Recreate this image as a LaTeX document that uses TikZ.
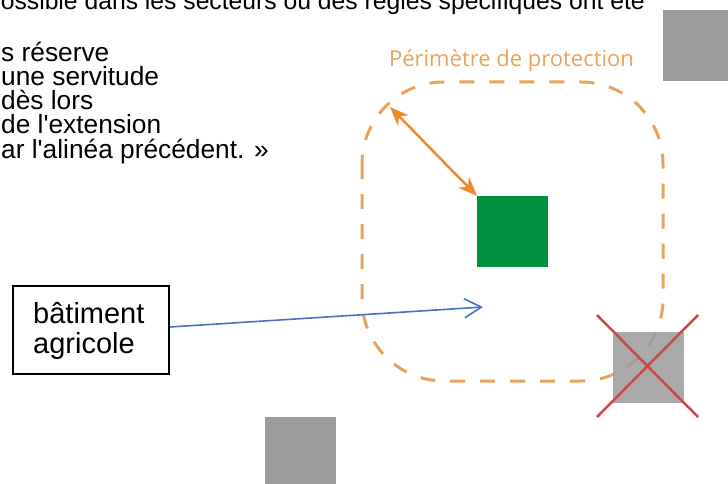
\documentclass[tikz,border=0pt]{standalone}
\usepackage{fontspec}
\setmainfont{Liberation Sans}[Ligatures=TeXOff]
\newfontfamily\perimfont{Open Sans}
\usetikzlibrary{arrows.meta}

\definecolor{perimorange}{RGB}{233,163,92}
\definecolor{arroworange}{RGB}{238,138,44}
\definecolor{bgreen}{RGB}{0,145,64}
\definecolor{bgray}{RGB}{155,155,155}
\definecolor{xred}{RGB}{208,70,72}
\definecolor{lblue}{RGB}{68,114,196}

\tikzset{
  bodytext/.style={inner sep=0pt, font=\fontsize{26.3}{23.8}\selectfont},
  headtext/.style={inner sep=0pt, font=\fontsize{24.7}{23.8}\selectfont},
  perimlabel/.style={inner sep=0pt, text=perimorange, font=\perimfont\fontsize{22}{24}\selectfont},
  perimline/.style={draw=perimorange, line width=3pt, dash pattern=on 15pt off 15pt, rounded corners=82pt},
  building/.style={fill=bgray, inner sep=0pt, minimum size=71pt},
  farm/.style={fill=bgreen, inner sep=0pt, minimum size=71pt},
  distarrow/.style={draw=arroworange, line width=2.5pt,
    {Stealth[length=19pt,width=15pt]}-{Stealth[length=19pt,width=15pt]}},
  redcross/.style={draw=xred, line width=2.5pt},
  labelbox/.style={draw=black, line width=2pt, inner sep=0pt,
    minimum width=156pt, minimum height=88pt},
  labeltext/.style={inner sep=0pt, font=\fontsize{29}{30}\selectfont},
  pointer/.style={draw=lblue, line width=1.6pt, -{Straight Barb[length=17pt,width=19pt]}}
}

\begin{document}
\begin{tikzpicture}[x=1pt,y=-1pt]
\useasboundingbox (0,0) rectangle (728,484);
\clip (0,0) rectangle (728,484);

% text of the article
\node[headtext, anchor=base east] (intro) at (645,10) {possible dans les secteurs où des règles spécifiques ont été};
\node[bodytext, anchor=base west] (l1) at (1,62) {s réserve};
\node[bodytext, anchor=base west] (l2) at (1,86) {une servitude};
\node[bodytext, anchor=base west] (l3) at (1,110) {dès lors};
\node[bodytext, anchor=base west] (l4) at (1,134) {de l'extension};
\node[bodytext, anchor=base west] (l5) at (1,158) {ar l'alinéa précédent. »};

% buildings
\node[building, anchor=north west] (b1) at (663,10) {};
\node[building, anchor=north west] (b2) at (265,417) {};

% protection perimeter
\draw[perimline] (362,82) rectangle (663,381);
\node[perimlabel, anchor=base] (plabel) at (511.5,66.5) {Périmètre de protection};

% building to be removed
\node[building, opacity=0.85] (old) at (648,367) {};
\draw[redcross] ([shift={(-51,-52)}]old.center) -- ([shift={(50,50)}]old.center);
\draw[redcross] ([shift={(50,-52)}]old.center) -- ([shift={(-51,50)}]old.center);

% farm building and distance
\node[farm, anchor=north west] (farm) at (477,196) {};
\coordinate (edge) at (390,107);
\draw[distarrow] (edge) -- (farm.north west);

% label
\node[labelbox, anchor=north west] (lbl) at (12,285) {};
\node[labeltext, anchor=base west] (lbl1) at (33,323) {bâtiment};
\node[labeltext, anchor=base west] (lbl2) at (33,353) {agricole};
\coordinate (target) at (483,307);
\draw[pointer] ([yshift=3pt]lbl.east) -- (target);
\end{tikzpicture}
\end{document}
